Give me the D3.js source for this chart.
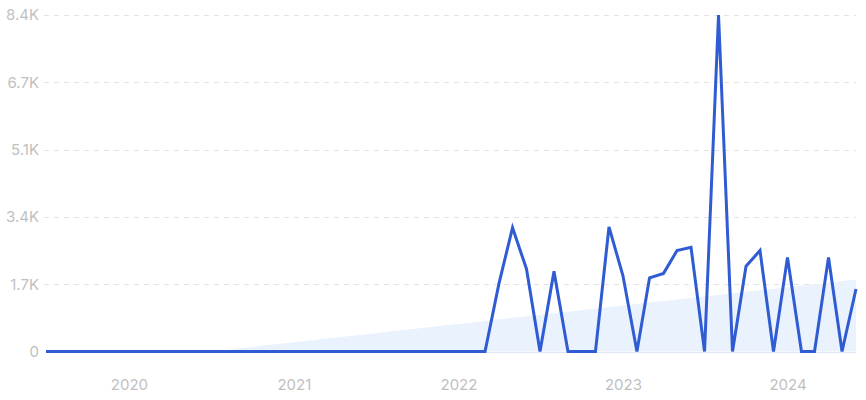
<!DOCTYPE html>
<html>
<head>
<meta charset="utf-8">
<script src="https://cdn.jsdelivr.net/npm/d3@7"></script>
<style>
  html, body { margin: 0; padding: 0; background: #fff; }
  svg { display: block; }
  text { font-family: Inter, "Noto Sans", sans-serif; }
</style>
</head>
<body>
<svg id="chart" width="866" height="400"></svg>
<script>
// Monthly series, Jul 2019 .. Jun 2024
const startMonth = "2019-07";
const values = [
  0, 0, 0, 0, 0, 0,                                   // 2019 Jul-Dec
  0, 0, 0, 0, 0, 0, 0, 0, 0, 0, 0, 0,                 // 2020
  0, 0, 0, 0, 0, 0, 0, 0, 0, 0, 0, 0,                 // 2021
  0, 0, 0, 1700, 3090, 2060, 0, 2000, 0, 0, 0, 3110,  // 2022
  1890, 0, 1840, 1950, 2520, 2600, 0, 8400, 0, 2130, 2520, 0, // 2023
  2350, 0, 0, 2350, 0, 1560                           // 2024 Jan-Jun
];
const trend = [
  0, 0, 0, 0, 0, 0,
  0, 0, 0, 0, 0, 0, 0, 38, 76, 115, 153, 191,
  229, 267, 306, 344, 382, 420, 458, 497, 535, 573, 611, 649,
  688, 726, 764, 802, 840, 879, 917, 955, 993, 1031, 1070, 1108,
  1146, 1184, 1222, 1261, 1299, 1337, 1375, 1413, 1452, 1490, 1528, 1566,
  1604, 1643, 1681, 1719, 1757, 1795
];
const yTickValues = [0, 1680, 3360, 5040, 6720, 8400];
const yTickLabels = ["0", "1.7K", "3.4K", "5.1K", "6.7K", "8.4K"];
const xTickLabels = ["2020", "2021", "2022", "2023", "2024"];

const svg = d3.select("#chart");
const parse = d3.timeParse("%Y-%m");
const t0 = parse(startMonth);
const dates = values.map((_, i) => d3.timeMonth.offset(t0, i));

const x = d3.scaleTime()
  .domain([dates[0], dates[dates.length - 1]])
  .range([46, 856]);
const y = d3.scaleLinear()
  .domain([0, 8400])
  .range([351.5, 15]);

// gridlines
const grid = svg.append("g");
grid.selectAll("line")
  .data(yTickValues.slice(1))
  .join("line")
  .attr("x1", 44).attr("x2", 856)
  .attr("y1", d => Math.round(y(d)) + 0.5)
  .attr("y2", d => Math.round(y(d)) + 0.5)
  .attr("stroke", "#e3e3e3")
  .attr("stroke-width", 1)
  .attr("stroke-dasharray", "5,5");

// y axis labels
const yAxis = d3.axisLeft(y)
  .tickValues(yTickValues)
  .tickFormat((d, i) => yTickLabels[i])
  .tickSize(0)
  .tickPadding(0);
const gy = svg.append("g").attr("transform", "translate(39,0)").call(yAxis);
gy.select(".domain").remove();
gy.selectAll("text")
  .attr("fill", "#bfbfbf")
  .attr("font-size", 15)
  .attr("font-family", "Inter, 'Noto Sans', sans-serif");

// x axis labels
const xYears = xTickLabels.map(s => parse(s + "-01"));
const xAxis = d3.axisBottom(x)
  .tickValues(xYears)
  .tickFormat((d, i) => xTickLabels[i])
  .tickSize(0)
  .tickPadding(0);
const gx = svg.append("g").attr("transform", "translate(0,379)").call(xAxis);
gx.select(".domain").remove();
gx.selectAll("text")
  .attr("fill", "#bfbfbf")
  .attr("font-size", 15)
  .attr("font-family", "Inter, 'Noto Sans', sans-serif");

// trend area
const area = d3.area()
  .x((d, i) => x(dates[i]))
  .y0(y(0))
  .y1(d => y(d));
svg.append("path")
  .datum(trend)
  .attr("d", area)
  .attr("fill", "#eaf2fd");

svg.append("line")
  .attr("x1", x(dates[0])).attr("x2", x(dates[dates.length - 1]))
  .attr("y1", y(0) + 1).attr("y2", y(0) + 1)
  .attr("stroke", "#dfe7f4").attr("stroke-width", 1);

// main line
const line = d3.line()
  .x((d, i) => x(dates[i]))
  .y(d => y(d));
svg.append("path")
  .datum(values)
  .attr("d", line)
  .attr("fill", "none")
  .attr("stroke", "#2f5bd3")
  .attr("stroke-width", 3)
  .attr("stroke-linejoin", "miter")
  .attr("stroke-miterlimit", 4);
</script>
</body>
</html>
